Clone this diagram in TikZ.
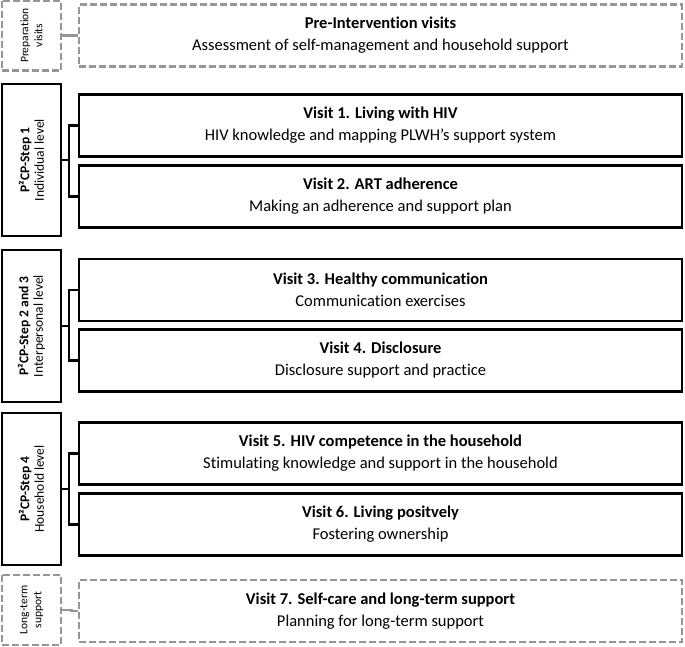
\documentclass[tikz,border=0pt]{standalone}
\usepackage{fontspec}
\setmainfont{Carlito}[Ligatures = NoCommon]
\usetikzlibrary{positioning}
\definecolor{dashgray}{RGB}{150,150,150}

\begin{document}
\begin{tikzpicture}[x = 1pt, y = -1pt,
		visit/.style = {draw, line width = 2.5pt, minimum width = 603pt, minimum height = 62pt, inner sep = 0pt, align = center, font = \fontsize{16.5}{22}\selectfont},
		visitdash/.style = {visit, draw = dashgray, dash pattern = on 7pt off 3pt},
		level/.style = {draw, line width = 2.5pt, rotate = 90, minimum width = 152pt, minimum height = 59pt, inner sep = 0pt, align = center, font = \fontsize{13.5}{14.5}\selectfont},
		leveldash/.style = {level, draw = dashgray, dash pattern = on 7pt off 3pt, minimum width = 70pt, font = \fontsize{11.5}{14}\selectfont},
		link/.style = {line width = 2.5pt},
		linkdash/.style = {link, draw = dashgray}]
	\def\xLevel{31.5};
	\def\xVisit{380.5};
	\def\gap{9};

	\useasboundingbox (0,0) rectangle (685,646);

	\begin{scope}
		\node [leveldash] (prep) at (\xLevel,35.5) {Preparation\\visits};
		\node [visitdash] (pre) at (\xVisit,35.5) {\textbf{Pre-Intervention visits}\\Assessment of self-management and household support};
		\draw [linkdash] (prep.south) -- ++(\gap,0) |- (pre.west);
	\end{scope}

	\begin{scope}
		\node [level] (step1) at (\xLevel,160) {\textbf{P²CP-Step 1}\\Individual level};
		\node [visit] (visit1) at (\xVisit,125.5) {\textbf{Visit 1. Living with HIV}\\HIV knowledge and mapping PLWH’s support system};
		\node [visit] (visit2) at (\xVisit,196.5) {\textbf{Visit 2. ART adherence}\\Making an adherence and support plan};
		\draw [link] (visit1.west) -- ++(-\gap,0) coordinate (b1) |- (visit2.west);
		\draw [link] (step1.south) -- (step1.south -| b1);
	\end{scope}

	\begin{scope}
		\node [level] (step2) at (\xLevel,326) {\textbf{P²CP-Step 2 and 3}\\Interpersonal level};
		\node [visit] (visit3) at (\xVisit,290) {\textbf{Visit 3. Healthy communication}\\Communication exercises};
		\node [visit] (visit4) at (\xVisit,360.5) {\textbf{Visit 4. Disclosure}\\Disclosure support and practice};
		\draw [link] (visit3.west) -- ++(-\gap,0) coordinate (b2) |- (visit4.west);
		\draw [link] (step2.south) -- (step2.south -| b2);
	\end{scope}

	\begin{scope}
		\node [level] (step4) at (\xLevel,489) {\textbf{P²CP-Step 4}\\Household level};
		\node [visit] (visit5) at (\xVisit,453.5) {\textbf{Visit 5. HIV competence in the household}\\Stimulating knowledge and support in the household};
		\node [visit] (visit6) at (\xVisit,524.5) {\textbf{Visit 6. Living positvely}\\Fostering ownership};
		\draw [link] (visit5.west) -- ++(-\gap,0) coordinate (b3) |- (visit6.west);
		\draw [link] (step4.south) -- (step4.south -| b3);
	\end{scope}

	\begin{scope}
		\node [leveldash] (longterm) at (\xLevel,610) {Long-term\\support};
		\node [visitdash] (visit7) at (\xVisit,611) {\textbf{Visit 7. Self-care and long-term support}\\Planning for long-term support};
		\draw [linkdash] (longterm.south) -- ++(\gap,0) |- (visit7.west);
	\end{scope}
\end{tikzpicture}
\end{document}
